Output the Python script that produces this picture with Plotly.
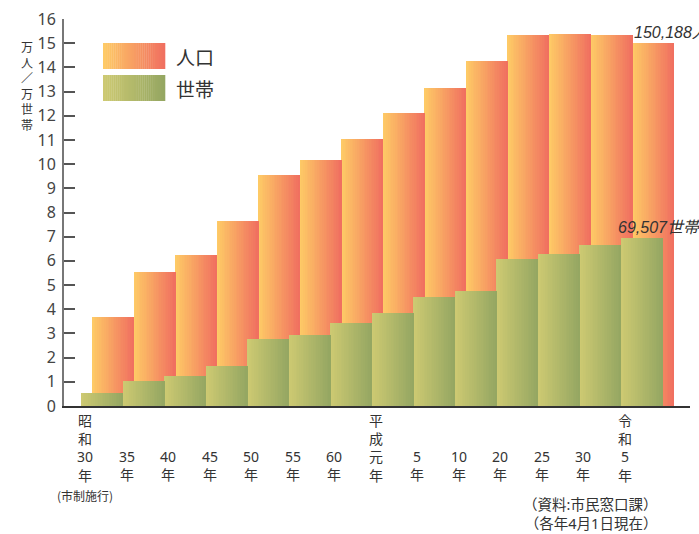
import plotly.graph_objects as go

# Survey years: each x label is a list of lines stacked vertically
year_labels = [
    ["昭", "和", "30", "年"], ["35", "年"], ["40", "年"], ["45", "年"], ["50", "年"],
    ["55", "年"], ["60", "年"], ["平", "成", "元", "年"], ["5", "年"], ["10", "年"],
    ["20", "年"], ["25", "年"], ["30", "年"], ["令", "和", "5", "年"],
]
# Population (10,000 people)
population = [3.68, 5.54, 6.24, 7.65, 9.55, 10.17, 11.04, 12.11, 13.15, 14.26,
              15.34, 15.38, 15.34, 15.0188]
# Households (10,000 households)
households = [0.54, 1.03, 1.25, 1.67, 2.77, 2.94, 3.43, 3.84, 4.51, 4.75,
              6.08, 6.28, 6.66, 6.9507]
y_ticks = list(range(0, 17))

series_names = ["人口", "世帯"]
source_notes = ["（資料:市民窓口課）", "（各年4月1日現在）"]
pop_colors = ((254, 204, 102), (240, 110, 96))
hh_colors = ((206, 202, 114), (148, 166, 98))

W, H = 699, 534
L, R, T, B = 64, 9, 19, 128
PW, PH = W - L - R, H - T - B
UNIT = 41.54                      # px per category
X0 = -(85 - L) / UNIT             # left edge of x range
X1 = X0 + PW / UNIT
HH_OFF, POP_OFF = -0.085, 0.18    # bar offsets from category position
STRIPS = 24

TXT = "#333333"
JP = "Noto Sans CJK JP"
NUM = "Noto Sans, " + JP
XL_SIZE = 14                      # x label font size (line pitch is 1.3em)


def lerp(c0, c1, t):
    return "rgb(%d,%d,%d)" % tuple(round(a + (b - a) * t) for a, b in zip(c0, c1))


def px_x(p):
    return (p - L) / PW


def px_y(p):
    return (T + PH - p) / PH


xs = list(range(len(year_labels)))
fig = go.Figure()

# Bars are painted as thin vertical strips to get a left-to-right gradient
for values, colors, off in ((population, pop_colors, POP_OFF),
                            (households, hh_colors, HH_OFF)):
    for k in range(STRIPS):
        fig.add_trace(go.Bar(
            x=xs, y=values, width=1 / STRIPS, offset=off + k / STRIPS,
            marker=dict(color=lerp(colors[0], colors[1], (k + 0.5) / STRIPS),
                        line=dict(width=0)),
            showlegend=False, hoverinfo="skip",
        ))

shapes = []
annotations = []

# Legend swatches with the same gradients
for row, (name, colors) in enumerate(zip(series_names, (pop_colors, hh_colors))):
    top, bot = 43 + row * 32, 69 + row * 32
    n = 30
    for k in range(n):
        xa = 103 + (165 - 103) * k / n
        xb = 103 + (165 - 103) * (k + 1) / n + 0.3
        shapes.append(dict(type="rect", xref="paper", yref="paper",
                           x0=px_x(xa), x1=px_x(xb), y0=px_y(bot), y1=px_y(top),
                           fillcolor=lerp(colors[0], colors[1], (k + 0.5) / n),
                           line=dict(width=0), layer="above"))
    annotations.append(dict(text=name, xref="paper", yref="paper",
                            x=px_x(174), y=px_y((top + bot) / 2),
                            xanchor="left", yanchor="middle", showarrow=False,
                            font=dict(family=JP, size=19, color=TXT)))

# X labels: vertical stacks, bottom line aligned across categories
pitch = 1.3 * XL_SIZE
for x, lines in zip(xs, year_labels):
    center = 475 - (len(lines) - 1) * pitch / 2
    annotations.append(dict(text="<br>".join(lines), xref="x", yref="paper", x=x,
                            y=px_y(center), xanchor="center", yanchor="middle",
                            showarrow=False,
                            font=dict(family=NUM, size=XL_SIZE, color=TXT)))
annotations.append(dict(text="(市制施行)", xref="x", yref="paper", x=xs[0],
                        y=px_y(495), xanchor="center", yanchor="middle",
                        showarrow=False, font=dict(family=JP, size=12, color=TXT)))

# Y axis title, written vertically
annotations.append(dict(text="<br>".join("万人／万世帯"), xref="paper", yref="paper",
                        x=px_x(26.5), y=px_y(85.5), xanchor="center",
                        yanchor="middle", showarrow=False,
                        font=dict(family=JP, size=12, color=TXT)))

# Latest values
val_font = dict(family="Liberation Sans, " + JP, size=16, color=TXT,
                style="italic")
annotations.append(dict(text=f"{round(population[-1] * 10000):,}人",
                        xref="x", yref="y", x=xs[-1] + POP_OFF, y=population[-1],
                        xanchor="left", yanchor="bottom", showarrow=False,
                        font=val_font, xshift=-1))
annotations.append(dict(text=f"{round(households[-1] * 10000):,}世帯",
                        xref="x", yref="y", x=xs[-1] + HH_OFF, y=households[-1],
                        xanchor="left", yanchor="bottom", showarrow=False,
                        font=val_font, xshift=-5))

# Source notes
annotations.append(dict(text="<br>".join(source_notes), xref="paper", yref="paper",
                        x=px_x(659), y=px_y(513.5), xanchor="right",
                        yanchor="middle", align="right", showarrow=False,
                        font=dict(family=NUM, size=14.5, color=TXT)))

fig.update_layout(
    width=W, height=H, margin=dict(l=L, r=R, t=T, b=B, pad=0),
    paper_bgcolor="white", plot_bgcolor="white",
    barmode="overlay", bargap=0, showlegend=False,
    shapes=shapes, annotations=annotations,
    xaxis=dict(range=[X0, X1], showgrid=False, zeroline=False,
               showticklabels=False, ticks="", showline=True,
               linecolor="#333333", linewidth=1.5, fixedrange=True),
    yaxis=dict(range=[0, 16], tickvals=y_ticks, ticks="inside", ticklen=11,
               tickwidth=2, tickcolor="#555555", showline=True,
               linecolor="#777777", linewidth=2, showgrid=False, zeroline=False,
               tickfont=dict(family=NUM, size=16, color="#444444"),
               ticklabelstandoff=3, fixedrange=True),
)

fig.write_html("out.html")
